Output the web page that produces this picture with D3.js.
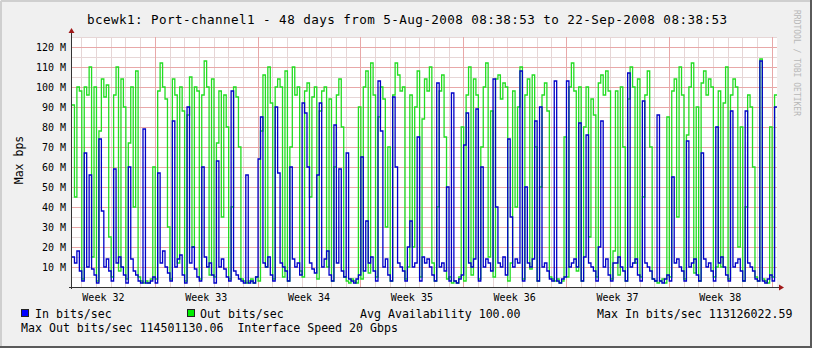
<!DOCTYPE html>
<html><head><meta charset="utf-8">
<script src="https://cdn.jsdelivr.net/npm/d3@7"></script>
<style>html,body{margin:0;padding:0;background:#fff;overflow:hidden}</style>
</head><body><svg id="c" width="814" height="351"></svg>
<script>
const titleText = "bcewk1: Port-channel1 - 48 days from 5-Aug-2008 08:38:53 to 22-Sep-2008 08:38:53";
const startTime = Date.UTC(2008, 7, 5, 8, 38, 53);
const endTime = Date.UTC(2008, 8, 22, 8, 38, 53);
const stepHours = 4;
const yLabel = "Max bps";
const yTickValues = [10, 20, 30, 40, 50, 60, 70, 80, 90, 100, 110, 120];
const yMax = 125;
const weekLabels = ["Week 32", "Week 33", "Week 34", "Week 35", "Week 36", "Week 37", "Week 38"];
// values in M bits/sec, one per 4 hours from start (6 per day)
const outValues = [
 91,45,100,98,4,100,   96,110,15,100,3,78,   104,95,101,25,5,96,   110,8,104,90,4,72,
 100,40,108,5,3,2,     3,2,4,60,4,98,        112,100,94,30,4,104,  96,12,100,88,3,86,
 105,20,100,98,4,96,   113,100,6,104,5,72,   98,35,96,80,4,40,     100,95,70,4,3,2,
 3,4,2,5,3,78,         106,10,110,92,4,100,  104,100,5,108,3,70,   110,96,100,8,5,98,
 102,45,95,100,4,88,   98,100,10,94,3,60,    96,104,80,5,3,2,      4,3,2,90,4,100,
 108,7,112,96,5,85,    100,94,30,70,3,96,    112,106,98,100,4,10,  96,20,90,108,5,84,
 104,98,110,12,3,40,   98,106,75,4,5,2,      3,2,5,80,3,96,        110,6,104,96,4,70,
 100,112,15,88,5,104,  106,94,102,100,3,12,  98,40,90,110,4,96,    104,9,106,70,3,50,
 96,102,88,5,4,3,      4,2,3,75,5,100,       112,98,8,100,3,80,    100,25,94,86,5,102,
 106,96,108,98,4,18,   98,6,100,70,3,94,     110,100,12,104,5,45,  96,108,70,4,3,2,
 3,4,2,85,5,98,        104,35,110,96,4,76,   100,112,7,90,3,102,   108,96,104,100,5,10,
 98,10,92,110,4,96,    104,100,20,80,3,40,   96,90,60,5,3,114,     4,3,2,80,5,96
];
const inValues = [
 15,12,18,8,3,67,   10,56,9,6,2,74,    38,10,14,8,3,59,   12,15,10,6,2,60,
 14,8,6,3,2,79,     2,2,3,5,2,57,      12,18,10,7,3,83,   10,14,16,6,2,90,
 12,20,9,5,3,60,    15,10,12,6,2,63,   10,14,9,5,3,98,    8,6,4,3,2,56,
 2,3,2,5,64,85,     12,10,15,6,3,90,   57,12,10,8,3,60,   14,10,12,6,92,87,
 60,12,9,7,56,92,   10,14,18,6,3,81,   12,59,8,5,67,4,    3,2,4,6,65,8,
 33,12,15,8,3,103,  78,10,14,6,3,95,   60,12,10,8,3,20,   33,10,12,75,3,15,
 12,14,10,6,3,102,  10,12,8,50,3,97,   3,2,4,6,71,87,     12,10,14,89,3,60,
 10,14,12,8,104,40, 12,10,15,6,74,35,  10,14,12,108,3,50, 12,10,14,83,3,90,
 10,12,8,4,3,103,   3,2,4,5,103,10,    12,14,10,82,3,15,  76,12,10,8,3,20,
 83,10,14,6,3,12,   12,15,10,8,3,107,  10,12,14,6,3,93,   12,10,8,4,3,86,
 3,2,4,6,3,55,      12,14,10,8,3,73,   10,12,14,6,3,67,   14,10,12,8,3,80,
 12,15,10,6,3,88,   10,12,14,8,3,88,   12,10,8,4,3,113,   3,2,4,6,3,90
];
const legendIn = "In bits/sec";
const legendOut = "Out bits/sec";
const availText = "Avg Availability 100.00";
const maxInText = "Max In bits/sec 113126022.59";
const maxOutText = "Max Out bits/sec 114501130.06  Interface Speed 20 Gbps";
const creditText = "RRDTOOL / TOBI OETIKER";

const colIn = "#0000c8", colOut = "#22dd22";
const mono = "'DejaVu Sans Mono', monospace";

const svg = d3.select("#c");
const W = 814, H = 351;
const L = 72, R = 777, T = 37, B = 287;

svg.append("rect").attr("width", W).attr("height", H).attr("fill", "#ffffff");
svg.append("rect").attr("x", 0).attr("y", 0).attr("width", 812).attr("height", 348).attr("fill", "#f0f0f0");
svg.append("line").attr("x1", 1).attr("y1", 1).attr("x2", 811).attr("y2", 1).attr("stroke", "#cfcfcf").attr("stroke-width", 2);
svg.append("line").attr("x1", 1).attr("y1", 1).attr("x2", 1).attr("y2", 347).attr("stroke", "#cfcfcf").attr("stroke-width", 2);
svg.append("line").attr("x1", 811).attr("y1", 0).attr("x2", 811).attr("y2", 348).attr("stroke", "#5a5a5a").attr("stroke-width", 2);
svg.append("line").attr("x1", 0).attr("y1", 347).attr("x2", 812).attr("y2", 347).attr("stroke", "#5a5a5a").attr("stroke-width", 2);

const x = d3.scaleUtc().domain([startTime, endTime]).range([L, R]);
const y = d3.scaleLinear().domain([0, yMax]).range([B, T]);

svg.append("rect").attr("x", L).attr("y", T).attr("width", R - L).attr("height", B - T).attr("fill", "#ffffff");

const g = svg.append("g");
const minorY = d3.range(5, yMax + 0.1, 5).filter(v => v % 10 !== 0);
g.selectAll(".hm").data(minorY).enter().append("line")
  .attr("x1", L).attr("x2", R).attr("y1", d => Math.round(y(d)) + 0.5).attr("y2", d => Math.round(y(d)) + 0.5)
  .attr("stroke", "#e6d6d6").attr("stroke-width", 1);
const days = d3.utcDay.range(new Date(startTime), new Date(endTime));
g.selectAll(".vm").data(days.filter(d => d.getUTCDay() !== 1)).enter().append("line")
  .attr("y1", T).attr("y2", B).attr("x1", d => Math.round(x(d)) + 0.5).attr("x2", d => Math.round(x(d)) + 0.5)
  .attr("stroke", "#e6d6d6").attr("stroke-width", 1);
g.selectAll(".hM").data(yTickValues).enter().append("line")
  .attr("x1", L).attr("x2", R).attr("y1", d => Math.round(y(d)) + 0.5).attr("y2", d => Math.round(y(d)) + 0.5)
  .attr("stroke", "#e8a8a8").attr("stroke-width", 1);
const mondays = d3.utcMonday.range(new Date(startTime), new Date(endTime));
g.selectAll(".vM").data(mondays).enter().append("line")
  .attr("y1", T).attr("y2", B).attr("x1", d => Math.round(x(d)) + 0.5).attr("x2", d => Math.round(x(d)) + 0.5)
  .attr("stroke", "#e8a8a8").attr("stroke-width", 1);

const stepMs = stepHours * 3600 * 1000;
function series(vals) {
  const pts = vals.map((v, i) => [startTime + i * stepMs, v]);
  pts.push([endTime, vals[vals.length - 1]]);
  return pts;
}
const line = d3.line().x(d => x(d[0])).y(d => y(d[1])).curve(d3.curveStepAfter);
svg.append("path").attr("d", line(series(outValues))).attr("fill", "none").attr("stroke", colOut).attr("stroke-width", 1.3);
svg.append("path").attr("d", line(series(inValues))).attr("fill", "none").attr("stroke", colIn).attr("stroke-width", 1.3);

svg.append("line").attr("x1", L - 0.5).attr("x2", L - 0.5).attr("y1", B + 2).attr("y2", T - 5).attr("stroke", "#333").attr("stroke-width", 1);
svg.append("line").attr("x1", L - 3).attr("x2", R + 3).attr("y1", B + 0.5).attr("y2", B + 0.5).attr("stroke", "#333").attr("stroke-width", 1);
svg.append("path").attr("d", `M${L - 3.5},${T - 4} L${L - 0.5},${T - 9} L${L + 2.5},${T - 4} Z`).attr("fill", "#a01818");
svg.append("path").attr("d", `M${R + 2},${B - 2.5} L${R + 7},${B + 0.5} L${R + 2},${B + 3.5} Z`).attr("fill", "#a01818");

svg.selectAll(".yl").data(yTickValues).enter().append("text")
  .attr("x", 66).attr("y", d => y(d) + 3.5).attr("text-anchor", "end")
  .attr("font-family", mono).attr("font-size", 10).attr("fill", "#000")
  .text(d => d + " M");
svg.append("text").attr("transform", "translate(23,160) rotate(-90)").attr("text-anchor", "middle")
  .attr("font-family", mono).attr("font-size", 11.5).attr("fill", "#000").text(yLabel);

const weekStarts = d3.utcMonday.range(d3.utcMonday.floor(new Date(startTime)), new Date(endTime))
  .filter(d => x(+d + 3.5 * 86400000) < R);
svg.selectAll(".xl").data(weekStarts).enter().append("text")
  .attr("x", d => x(+d + 3.5 * 86400000)).attr("y", 301).attr("text-anchor", "middle")
  .attr("font-family", mono).attr("font-size", 10).attr("fill", "#000")
  .text((d, i) => weekLabels[i]);

svg.append("text").attr("x", 87).attr("y", 24)
  .attr("font-family", mono).attr("font-size", 12.6).attr("fill", "#000")
  .attr("textLength", 640).attr("lengthAdjust", "spacing").text(titleText);

svg.append("text").attr("transform", "translate(794,10) rotate(90)")
  .attr("font-family", mono).attr("font-size", 8).attr("fill", "#b8b8b8").text(creditText);

const lf = 11.6;
svg.append("rect").attr("x", 21.5).attr("y", 309.5).attr("width", 7).attr("height", 7).attr("fill", "#0000ff").attr("stroke", "#222");
svg.append("text").attr("x", 35).attr("y", 318).attr("font-family", mono).attr("font-size", lf).text(legendIn);
svg.append("rect").attr("x", 187.5).attr("y", 309.5).attr("width", 7).attr("height", 7).attr("fill", "#00ee00").attr("stroke", "#222");
svg.append("text").attr("x", 200).attr("y", 318).attr("font-family", mono).attr("font-size", lf).text(legendOut);
svg.append("text").attr("x", 360).attr("y", 318).attr("font-family", mono).attr("font-size", lf).text(availText);
svg.append("text").attr("x", 597).attr("y", 318).attr("font-family", mono).attr("font-size", lf).text(maxInText);
svg.append("text").attr("x", 21).attr("y", 332).attr("font-family", mono).attr("font-size", lf).style("white-space", "pre").text(maxOutText);
</script></body></html>
